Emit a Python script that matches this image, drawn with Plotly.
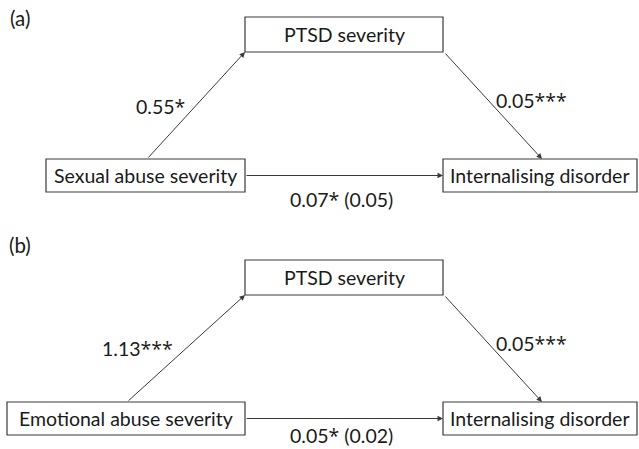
import plotly.graph_objects as go

# ---- data ----
panel_labels = ["(a)", "(b)"]
predictors = ["Sexual abuse severity", "Emotional abuse severity"]
mediator = "PTSD severity"
outcome = "Internalising disorder"
path_a = ["0.55*", "1.13***"]
path_b = ["0.05***", "0.05***"]
path_c = ["0.07* (0.05)", "0.05* (0.02)"]

# ---- layout (pixel geometry) ----
W, H = 639, 449
FONT = "Lato"
FS = 19.5
LINE = "#3a3a3a"
TXT = "#1a1a1a"


def stars(s):
    # render asterisks in a font whose asterisk is closer to the original's
    return s.replace("*", "<span style='font-family:Open Sans'>*</span>")


panels = [
    dict(med=(245, 17, 443, 52), pr=(46, 159, 245, 192), out=(443, 159, 637, 192),
         label_xy=(20, 18), a_lab=(160, 106), b_lab=(531, 100), c_lab=(341, 199), a_tail_x=147),
    dict(med=(245, 260, 443, 295), pr=(7, 402, 245, 435), out=(443, 402, 637, 435),
         label_xy=(20, 245), a_lab=(137, 348), b_lab=(531, 343), c_lab=(341, 435), a_tail_x=127),
]

fig = go.Figure()
shapes = []
ann = []

for i, p in enumerate(panels):
    med, pr, out = p["med"], p["pr"], p["out"]
    for (x0, y0, x1, y1), txt in [(med, mediator), (pr, predictors[i]), (out, outcome)]:
        shapes.append(dict(type="rect", xref="x", yref="y", x0=x0, y0=y0, x1=x1, y1=y1,
                           line=dict(color=LINE, width=1.2), fillcolor="white"))
        ann.append(dict(x=(x0 + x1) / 2, y=(y0 + y1) / 2, xref="x", yref="y", text=txt,
                        showarrow=False, font=dict(family=FONT, size=FS, color=TXT)))
    arrows = [
        ((p["a_tail_x"], pr[1]), (med[0], med[3])),
        ((med[2] + 1, med[3]), (542, out[1])),
        ((pr[2], (pr[1] + pr[3]) / 2), (out[0], (out[1] + out[3]) / 2)),
    ]
    for (tx, ty), (hx, hy) in arrows:
        ann.append(dict(x=hx, y=hy, ax=tx, ay=ty, xref="x", yref="y", axref="x", ayref="y",
                        text="", showarrow=True, arrowhead=2, arrowsize=1.1, arrowwidth=1,
                        arrowcolor=LINE, standoff=0, startstandoff=0))
    for (lx, ly), txt in [(p["a_lab"], path_a[i]), (p["b_lab"], path_b[i]), (p["c_lab"], path_c[i])]:
        ann.append(dict(x=lx, y=ly, xref="x", yref="y", text=stars(txt), showarrow=False,
                        borderpad=0, font=dict(family=FONT, size=FS, color=TXT)))
    ann.append(dict(x=p["label_xy"][0], y=p["label_xy"][1], xref="x", yref="y", text=panel_labels[i],
                    showarrow=False, font=dict(family=FONT, size=FS + 1, color=TXT)))

fig.update_layout(
    width=W, height=H, margin=dict(l=0, r=0, t=0, b=0),
    paper_bgcolor="white", plot_bgcolor="white",
    xaxis=dict(range=[0, W], visible=False, fixedrange=True),
    yaxis=dict(range=[H, 0], visible=False, fixedrange=True),
    shapes=shapes, annotations=ann, showlegend=False,
)
fig.write_html("out.html", config=dict(displayModeBar=False),
               post_script="document.body.style.margin='0';document.body.style.overflow='hidden';")
